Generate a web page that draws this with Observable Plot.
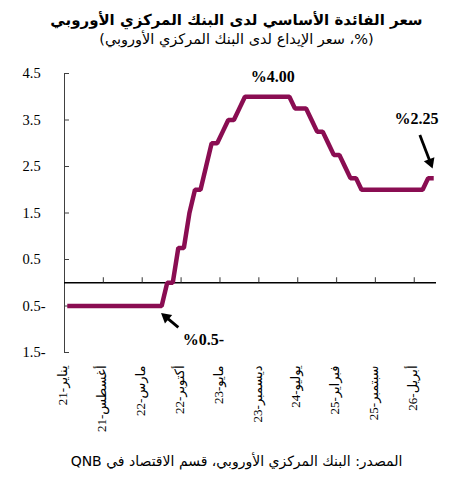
<!DOCTYPE html>
<html><head><meta charset="utf-8">
<script src="https://cdn.jsdelivr.net/npm/d3@7"></script>
<script src="https://cdn.jsdelivr.net/npm/@observablehq/plot@0.6"></script>
<style>
html,body{margin:0;padding:0;background:#fff;}
body{width:473px;height:478px;overflow:hidden;}
#title{font-family:"DejaVu Sans",sans-serif;font-weight:bold;font-size:15px;text-align:center;direction:rtl;height:20px;line-height:20px;padding-top:10px;color:#000;}
#subtitle{font-family:"DejaVu Sans",sans-serif;font-size:14.5px;text-align:center;direction:rtl;height:22px;line-height:18px;color:#000;}
#caption{font-family:"DejaVu Sans",sans-serif;font-size:14px;text-align:center;direction:rtl;height:22px;line-height:22px;color:#000;}
#chart svg{display:block;}
</style></head><body>
<div id="title">سعر الفائدة الأساسي لدى البنك المركزي الأوروبي</div>
<div id="subtitle">(%، سعر الإيداع لدى البنك المركزي الأوروبي)</div>
<div id="chart"></div>
<div id="caption">المصدر: البنك المركزي الأوروبي، قسم الاقتصاد في QNB</div>
<script>
// Monthly ECB deposit rate, Jan 2021 .. Jul 2026 (67 months)
const rates = [
  -0.5,-0.5,-0.5,-0.5,-0.5,-0.5,-0.5,-0.5,-0.5,-0.5,-0.5,-0.5, // 2021
  -0.5,-0.5,-0.5,-0.5,-0.5,-0.5,0,0,0.75,0.75,1.5,2.0,         // 2022
  2.0,2.5,3.0,3.0,3.25,3.5,3.5,3.75,4.0,4.0,4.0,4.0,           // 2023
  4.0,4.0,4.0,4.0,4.0,3.75,3.75,3.75,3.5,3.25,3.25,3.0,        // 2024
  2.75,2.75,2.5,2.25,2.25,2.0,2.0,2.0,2.0,2.0,2.0,2.0,         // 2025
  2.0,2.0,2.0,2.0,2.0,2.25,2.25                                // 2026
];
const tickLabels = ["يناير-21","أغسطس-21","مارس-22","أكتوبر-22","مايو-23","ديسمبر-23","يوليو-24","فبراير-25","سبتمبر-25","أبريل-26"];
const labelStep = 7;
const yTicks = [-1.5,-0.5,0.5,1.5,2.5,3.5,4.5];
const notes = [
  {x: 37, y: 4.43, text: "%4.00"},
  {x: 62.9, y: 3.53, text: "%2.25"},
  {x: 24.5, y: -1.23, text: "%0.5-"}
];
const arrows = [
  {x1: 20.0, y1: -0.96, x2: 17.1, y2: -0.67},
  {x1: 63.5, y1: 3.18, x2: 65.7, y2: 2.49}
];

const W = 473, H = 398, ml = 64, mr = 37, mt = 21, mb = 98;
const xDomain = [-0.5, rates.length - 0.5];
const yDomain = [-1.5, 4.5];
const kx = (W - ml - mr) / (xDomain[1] - xDomain[0]);
const ky = (H - mt - mb) / (yDomain[1] - yDomain[0]);

const data = rates.map((v, i) => ({i, v}));
const labelData = tickLabels.map((t, k) => ({i: k * labelStep, t}));
const bounds = tickLabels.slice(1).map((t, k) => (k + 1) * labelStep - 0.5);

// arrow heads: filled triangles, set back from the tip
const heads = arrows.map(a => {
  const px = (a.x2 - a.x1) * kx, py = -(a.y2 - a.y1) * ky;
  const len = Math.hypot(px, py), ux = px / len, uy = py / len;
  const back = 5;
  return {
    x: a.x2 - ux * back / kx, y: a.y2 + uy * back / ky,
    x1: a.x1, y1: a.y1,
    rot: Math.atan2(ux, -uy) * 180 / Math.PI
  };
});

const serif = "'Liberation Serif','DejaVu Serif','DejaVu Sans',serif";

const chart = Plot.plot({
  width: W, height: H,
  marginLeft: ml, marginRight: mr, marginTop: mt, marginBottom: mb,
  x: {domain: xDomain, axis: null},
  y: {domain: yDomain, axis: null},
  marks: [
    Plot.ruleX([xDomain[0]], {y1: yDomain[0], y2: yDomain[1], stroke: "#404040", strokeWidth: 1}),
    Plot.ruleY(yTicks, {y: d => d, x1: xDomain[0], x2: xDomain[0] + 5 / kx, stroke: "#404040", strokeWidth: 1}),
    Plot.text(yTicks, {y: d => d, text: d => d < 0 ? `${-d}-` : `${d}`, frameAnchor: "left", dx: -42, textAnchor: "start", fontFamily: serif, fontSize: 14.5, fill: "#000"}),
    Plot.ruleY([0], {stroke: "#000", strokeWidth: 1.3}),
    Plot.ruleX(bounds, {x: d => d, y1: 0, y2: 5 / ky, stroke: "#555", strokeWidth: 1.2}),
    Plot.line(data, {x: "i", y: "v", stroke: "#8A0D52", strokeWidth: 4.5, strokeLinejoin: "miter", strokeLinecap: "butt"}),
    Plot.text(labelData, {x: "i", text: "t", frameAnchor: "bottom", dy: 13, rotate: -90, textAnchor: "end", fontFamily: serif, fontSize: 13, fill: "#000"}),
    Plot.text(notes, {x: "x", y: "y", text: "text", fontFamily: serif, fontSize: 16, fontWeight: "bold", fill: "#000"}),
    Plot.link(heads, {x1: "x1", y1: "y1", x2: "x", y2: "y", stroke: "#000", strokeWidth: 2.8}),
    Plot.dot(heads, {x: "x", y: "y", symbol: "triangle", r: 4.2, rotate: "rot", fill: "#000", stroke: "none"})
  ]
});
document.getElementById("chart").appendChild(chart);
</script>
</body></html>
